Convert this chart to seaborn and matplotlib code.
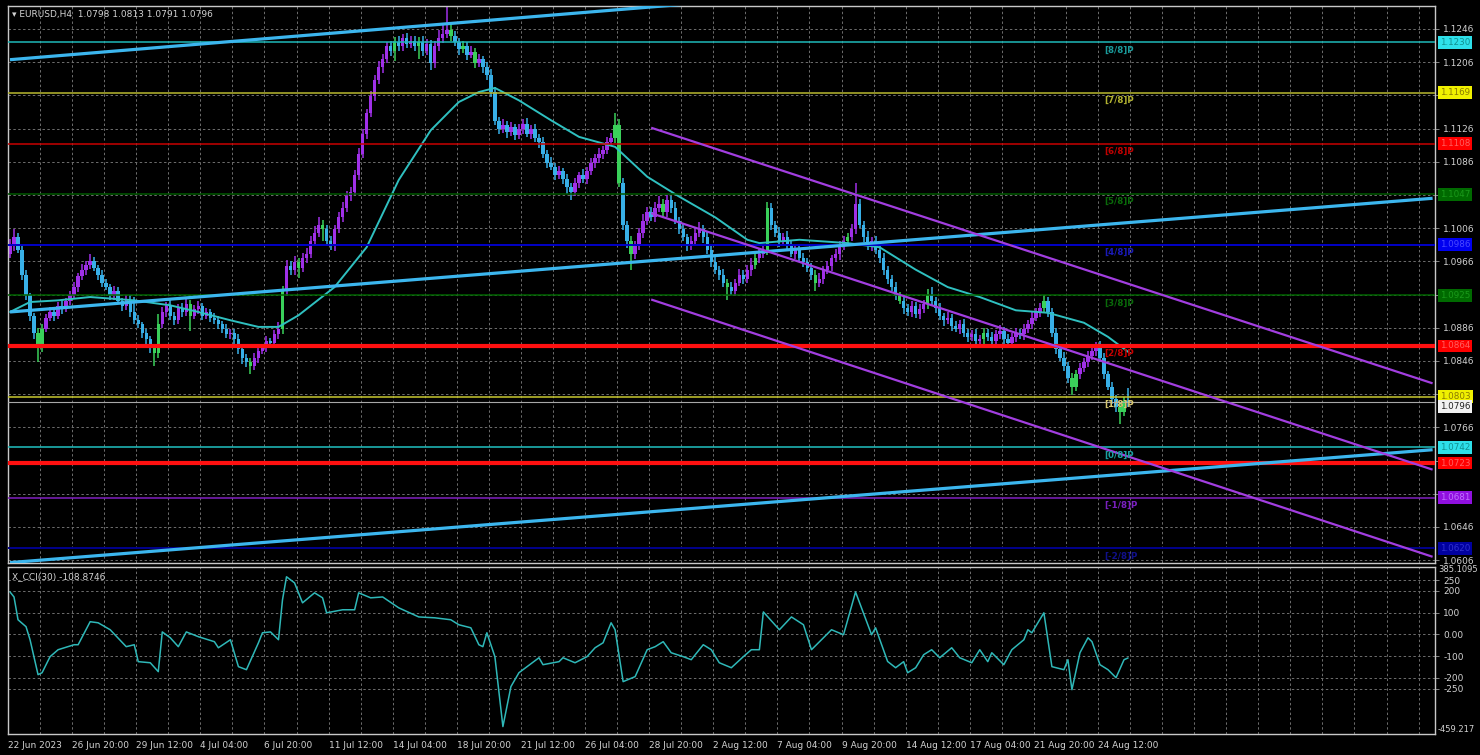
import numpy as np
import pandas as pd
import matplotlib
matplotlib.use("Agg")
import matplotlib.pyplot as plt
import matplotlib.transforms as mtransforms
import seaborn as sns

# ---------------- data ----------------
title_text = "\u25BE EURUSD,H4  1.0798 1.0813 1.0791 1.0796"
cci_title = "X_CCI(30) -108.8746"

first_open_pips = 10975
close_pips = [
    10985, 10995, 10980, 10950, 10925, 10900, 10880, 10862, 10885, 10898,
    10905, 10900, 10912, 10908, 10918, 10925, 10935, 10948, 10955, 10962,
    10966, 10958, 10950, 10940, 10935, 10925, 10930, 10918, 10912, 10920,
    10905, 10895, 10890, 10880, 10872, 10862, 10855, 10890, 10905, 10912,
    10900, 10895, 10910, 10905, 10915, 10900, 10908, 10912, 10900, 10905,
    10898, 10895, 10890, 10885, 10878, 10880, 10872, 10860, 10850, 10845,
    10840, 10850, 10858, 10862, 10870, 10868, 10878, 10885, 10930, 10960,
    10955, 10965, 10958, 10970, 10975, 10990, 11000, 11010, 11005, 10990,
    10985, 11005, 11020, 11030, 11045, 11050, 11070, 11095, 11120, 11145,
    11165, 11185, 11200, 11210, 11225, 11220, 11230, 11225, 11235, 11228,
    11232, 11225, 11230, 11220, 11228, 11205, 11225, 11235, 11240, 11245,
    11238, 11230, 11222, 11225, 11215, 11218, 11205, 11210, 11200, 11190,
    11170, 11135, 11125, 11130, 11122, 11128, 11118, 11125, 11132, 11120,
    11125, 11115, 11110, 11095, 11085, 11080, 11070, 11075, 11065, 11055,
    11050, 11060, 11070, 11065, 11075, 11085, 11090, 11095, 11100, 11110,
    11115, 11130, 11060, 11010, 10990, 10975, 10985, 11000, 11015, 11025,
    11020, 11030, 11035, 11025, 11040, 11030, 11015, 11005, 10995, 10985,
    10990, 11000, 11005, 10995, 10980, 10965, 10955, 10950, 10940, 10935,
    10930, 10940, 10950, 10945, 10955, 10962, 10970, 10975, 10980, 11030,
    11010, 11000, 10990, 10995, 10985, 10975, 10980, 10970, 10965, 10958,
    10950, 10940, 10945, 10955, 10960, 10970, 10975, 10985, 10990, 10995,
    11005, 11035, 11010, 10995, 10985, 10990, 10980, 10970, 10955, 10945,
    10935, 10925, 10918, 10910, 10905, 10912, 10903, 10908, 10915, 10925,
    10918, 10910, 10900, 10895, 10898, 10888, 10885, 10890, 10880, 10875,
    10878, 10870, 10872, 10880, 10875, 10870, 10878, 10882, 10872, 10868,
    10875, 10880, 10878, 10885, 10890, 10898, 10905, 10910, 10918, 10905,
    10880, 10860, 10850, 10840, 10825, 10815, 10830, 10838, 10845, 10852,
    10858, 10865, 10850, 10830, 10815, 10800, 10790, 10785, 10798, 10796,
]
upper_wick = [
    8, 10, 5, 4, 5, 3, 4, 6, 5, 4,
    6, 4, 5, 8, 4, 5, 6, 4, 8, 5,
    9, 5, 4, 6, 5, 4, 6, 5, 4, 6,
    5, 18, 6, 3, 5, 4, 5, 12, 6, 5,
    8, 5, 4, 6, 8, 4, 5, 6, 4, 5,
    4, 6, 5, 4, 6, 5, 4, 6, 5, 4,
    5, 6, 4, 5, 6, 4, 5, 8, 6, 8,
    6, 8, 5, 6, 7, 6, 8, 10, 6, 5,
    6, 5, 6, 8, 6, 5, 6, 8, 6, 5,
    6, 5, 8, 6, 5, 7, 6, 8, 5, 6,
    6, 5, 6, 8, 6, 5, 6, 10, 12, 30,
    8, 6, 5, 6, 5, 7, 5, 6, 4, 6,
    8, 6, 5, 7, 5, 6, 4, 6, 5, 7,
    5, 6, 4, 6, 5, 7, 5, 6, 4, 6,
    5, 6, 4, 7, 5, 6, 5, 7, 5, 6,
    6, 15, 8, 6, 5, 6, 5, 6, 8, 6,
    6, 8, 10, 6, 6, 5, 7, 5, 6, 4,
    6, 5, 8, 5, 6, 4, 6, 5, 7, 5,
    6, 5, 7, 5, 6, 8, 5, 6, 4, 8,
    6, 5, 7, 5, 8, 5, 6, 4, 6, 5,
    6, 5, 7, 5, 6, 4, 6, 5, 7, 5,
    6, 25, 6, 5, 7, 5, 6, 4, 6, 5,
    5, 6, 4, 7, 5, 6, 5, 6, 4, 8,
    10, 5, 6, 4, 7, 5, 6, 5, 6, 4,
    5, 7, 5, 6, 4, 6, 5, 7, 5, 6,
    5, 6, 4, 6, 5, 7, 5, 6, 7, 5,
    5, 6, 4, 7, 5, 6, 5, 6, 4, 6,
    5, 4, 5, 6, 4, 6, 5, 6, 5, 15,
]
lower_wick = [
    5, 6, 4, 6, 5, 6, 8, 17, 5, 4,
    4, 6, 4, 5, 3, 5, 4, 6, 4, 5,
    5, 4, 6, 5, 4, 6, 5, 4, 6, 5,
    6, 5, 4, 6, 5, 6, 15, 5, 4, 6,
    5, 6, 4, 6, 5, 18, 4, 6, 5, 4,
    5, 4, 6, 5, 4, 6, 5, 6, 8, 6,
    10, 5, 6, 4, 5, 6, 4, 5, 6, 5,
    5, 6, 12, 5, 6, 5, 6, 5, 15, 6,
    5, 6, 5, 7, 5, 6, 4, 6, 5, 6,
    5, 6, 5, 7, 5, 6, 12, 5, 6, 5,
    5, 6, 15, 6, 5, 8, 6, 5, 6, 5,
    6, 5, 7, 5, 6, 4, 6, 5, 7, 5,
    6, 5, 6, 4, 7, 5, 6, 5, 6, 4,
    6, 5, 7, 5, 6, 4, 6, 5, 6, 8,
    10, 5, 6, 4, 6, 5, 7, 5, 6, 5,
    5, 6, 5, 6, 8, 20, 6, 5, 6, 5,
    5, 6, 5, 7, 5, 6, 4, 6, 5, 6,
    5, 6, 5, 7, 5, 6, 4, 6, 5, 15,
    5, 6, 4, 6, 5, 7, 5, 6, 5, 6,
    6, 5, 7, 5, 6, 4, 6, 5, 6, 5,
    6, 10, 5, 6, 4, 6, 5, 7, 5, 6,
    5, 6, 4, 6, 5, 7, 5, 6, 5, 6,
    5, 6, 4, 7, 5, 6, 5, 6, 4, 6,
    5, 6, 5, 7, 5, 6, 4, 6, 5, 6,
    5, 6, 4, 6, 5, 7, 5, 6, 5, 6,
    5, 6, 5, 7, 5, 6, 4, 6, 5, 6,
    5, 6, 4, 6, 5, 10, 5, 6, 5, 6,
    5, 6, 5, 6, 4, 6, 5, 15, 5, 5,
]
green_bars = [7, 8, 36, 37, 45, 60, 68, 72, 78, 96, 102, 110, 113, 116, 151, 152,
              155, 163, 179, 186, 189, 201, 209, 222, 229, 243, 258, 265, 266, 277, 278]

ma_bar = [0, 5, 12, 20, 31, 40, 47, 55, 62, 67, 72, 81, 89, 97, 105, 112, 117,
          121, 127, 135, 142, 151, 159, 167, 176, 184, 187, 197, 209, 217, 226,
          234, 242, 251, 259, 268, 274, 279]
ma_val = [1.0905, 1.0917, 1.0919, 1.0923, 1.0919, 1.0913, 1.0905, 1.0895, 1.0887,
          1.0887, 1.0901, 1.0935, 1.0983, 1.1064, 1.1124, 1.1158, 1.1170, 1.1175,
          1.1160, 1.1136, 1.1116, 1.1104, 1.1068, 1.1044, 1.1019, 1.0992, 1.0988,
          1.0992, 1.0988, 1.0983, 1.0956, 1.0935, 1.0923, 1.0907, 1.0904, 1.0892,
          1.0875, 1.0857]

cci_bar = [0, 1, 2, 4, 5, 7, 8, 10, 12, 16, 17, 20, 22, 25, 29, 31, 32, 35, 37, 38,
           40, 42, 44, 47, 51, 52, 55, 57, 59, 62, 63, 65, 67, 68, 69, 71, 73, 76,
           78, 79, 83, 86, 87, 90, 93, 97, 102, 106, 110, 112, 115, 117, 118, 119,
           121, 123, 125, 127, 132, 133, 137, 138, 141, 144, 146, 148, 150, 151,
           153, 156, 159, 161, 163, 165, 168, 170, 173, 175, 177, 180, 183, 185,
           187, 188, 192, 195, 198, 200, 205, 208, 211, 215, 216, 219, 221, 223,
           224, 226, 228, 230, 232, 235, 237, 240, 242, 244, 245, 248, 250, 253,
           254, 255, 258, 260, 263, 264, 265, 267, 269, 270, 272, 274, 276, 278, 279]
cci_val = [195, 172, 67, 35, -25, -186, -177, -103, -71, -48, -48, 58, 53, 21, -57,
           -48, -126, -131, -172, 11, -16, -57, 11, -11, -34, -62, -25, -149, -163,
           -39, 7, 11, -25, 159, 265, 237, 145, 191, 168, 99, 113, 113, 191, 168,
           172, 122, 80, 76, 67, 44, 30, -48, -57, 7, -103, -425, -241, -177, -108,
           -140, -126, -108, -131, -103, -62, -39, 53, 21, -218, -195, -71, -57,
           -34, -85, -103, -117, -48, -71, -131, -154, -103, -71, -71, 103, 21, 80,
           44, -71, 21, -2, 195, -2, 30, -125, -154, -126, -177, -154, -94, -71,
           -108, -62, -108, -131, -71, -126, -85, -140, -71, -25, 21, 7, 99, -149,
           -163, -117, -255, -85, -16, -34, -140, -163, -200, -117, -109]

# Murrey math levels
level_vals = [1.1230, 1.1169, 1.1108, 1.1047, 1.0986, 1.0925, 1.0864, 1.0803,
              1.0742, 1.0681, 1.0620]
level_names = ["[8/8]P", "[7/8]P", "[6/8]P", "[5/8]P", "[4/8]P", "[3/8]P",
               "[2/8]P", "[1/8]P", "[0/8]P", "[-1/8]P", "[-2/8]P"]
support_val = 1.0723
last_price = 1.0796

# trend channel anchors (bar, price)
cyan_bars = [0, 355]
cyan_prices = [[1.1209, 1.1350], [1.0905, 1.1042], [1.0603, 1.0739]]
purple_bars = [160, 355]
purple_prices = [[1.1127, 1.0819], [1.1024, 1.0715], [1.0920, 1.0610]]

date_labels = ["22 Jun 2023", "26 Jun 20:00", "29 Jun 12:00", "4 Jul 04:00",
               "6 Jul 20:00", "11 Jul 12:00", "14 Jul 04:00", "18 Jul 20:00",
               "21 Jul 12:00", "26 Jul 04:00", "28 Jul 20:00", "2 Aug 12:00",
               "7 Aug 04:00", "9 Aug 20:00", "14 Aug 12:00", "17 Aug 04:00",
               "21 Aug 20:00", "24 Aug 12:00"]
cci_ticks = [250, 200, 100, 0, -100, -200, -250]
cci_tick_labels = ["250", "200", "100", "0.00", "-100", "-200", "-250"]
cci_top_label = "385.1095"
cci_bottom_label = "-459.217"

# ---------------- styles ----------------
level_line_colors = ["#1fb8b8", "#b8b830", "#c80000", "#005a00", "#0000c8", "#006400",
                     "#ff1010", "#c8c830", "#20c0c0", "#8020c0", "#00008c"]
level_line_widths = [1.1, 1.1, 1.1, 1.1, 1.4, 1.1, 3.0, 1.1, 1.1, 1.1, 1.4]
level_text_colors = ["#1a9a9a", "#b0b030", "#c00000", "#0a6a0a", "#1a1ab8", "#0a6a0a",
                     "#c80000", "#d8c870", "#1aa0a0", "#7a20c0", "#10108a"]
box_face = ["#2ee0ea", "#f0f000", "#ff0000", "#006a00", "#0000f0", "#006a00",
            "#ff0000", "#f0f000", "#2ee0ea", "#9010e0", "#0000a0"]
box_text = ["#109090", "#8a7a00", "#ff6060", "#1a9a1a", "#4a4aff", "#1a9a1a",
            "#ff6060", "#8a7a00", "#109090", "#c070ff", "#3030d0"]
UP, DOWN, GREEN = "#a030e8", "#38b0e8", "#3ad05a"
TXT = "#d2d2d2"

sns.set_theme(style="dark", rc={"axes.facecolor": "black", "figure.facecolor": "black",
                                "savefig.facecolor": "black", "text.color": TXT,
                                "xtick.color": TXT, "ytick.color": TXT,
                                "axes.edgecolor": "#c8c8c8"})
plt.rcParams["font.family"] = ["DejaVu Sans"]

W, H = 1480, 755
fig = plt.figure(figsize=(W / 100, H / 100), dpi=100)
ax = fig.add_axes([8 / W, 1 - 563 / H, 1427 / W, 557 / H])
axc = fig.add_axes([8 / W, 1 - 734 / H, 1427 / W, 167 / H])

n_slots = 356
x_lo, x_hi = -0.5, 355.6
grid_pos = [b - 0.5 for b in range(0, n_slots, 8)]
label_pos = [b - 0.5 for b in range(0, 16 * len(date_labels), 16)]
gstyle = dict(color="#6e6e6e", linestyle=(0, (2.5, 2.5)), linewidth=0.7)

# ---------------- main price panel ----------------
c = np.array(close_pips) / 10000
o = np.concatenate([[first_open_pips / 10000], c[:-1]])
hi = np.maximum(o, c) + np.array(upper_wick) / 10000
lo = np.minimum(o, c) - np.array(lower_wick) / 10000
bars = np.arange(len(c))
cols = np.where(c >= o, UP, DOWN).astype(object)
for g in green_bars:
    cols[g] = GREEN

ax.vlines(bars, lo, hi, colors=list(cols), linewidth=1.1, zorder=2)
ax.bar(bars, np.maximum(np.abs(c - o), 0.00010), bottom=np.minimum(o, c),
       width=0.85, color=list(cols), linewidth=0, zorder=2)

ma_df = pd.DataFrame({"bar": ma_bar, "ma": ma_val})
sns.lineplot(data=ma_df, x="bar", y="ma", ax=ax, color="#2fc0c0", linewidth=1.4,
             sort=False, zorder=3, legend=False)

for v, lc, lw in zip(level_vals, level_line_colors, level_line_widths):
    ax.axhline(v, color=lc, linewidth=lw, zorder=4)
ax.axhline(support_val, color="#ff1010", linewidth=3.0, zorder=4)
ax.axhline(last_price, color="#a8a8a8", linewidth=0.8, zorder=4)

for pr in cyan_prices:
    ax.plot(cyan_bars, pr, color="#3cb6ee", linewidth=2.3, zorder=5, solid_capstyle="butt")
for pr in purple_prices:
    ax.plot(purple_bars, pr, color="#a23ee0", linewidth=1.6, zorder=5, solid_capstyle="butt")

for v, name, tc in zip(level_vals, level_names, level_text_colors):
    ax.annotate(name, xy=(273, v), xytext=(0, -5.5), textcoords="offset points",
                color=tc, fontsize=6.3, fontweight="bold", ha="left", va="center", zorder=6)

ax.set_xlim(x_lo, x_hi)
ax.set_ylim(1.06025, 1.12737)
yt = np.round(1.0606 + 0.004 * np.arange(17), 4)
box_vals = level_vals + [support_val, last_price]
ylabels = ["" if any(abs(t - b) < 0.001 for b in box_vals) else f"{t:.4f}" for t in yt]
ax.yaxis.tick_right()
ax.set_yticks(yt)
ax.set_yticklabels(ylabels, fontsize=6.5, color=TXT)
ax.tick_params(axis="y", length=3, width=0.6, pad=3, color="#9a9a9a")
ax.set_xticks(grid_pos)
ax.tick_params(axis="x", length=0, labelbottom=False)
ax.grid(True, axis="both", **gstyle)
ax.set_xlabel("")
ax.set_ylabel("")
for s in ax.spines.values():
    s.set_color("#c8c8c8")
    s.set_linewidth(1.0)

trans = mtransforms.blended_transform_factory(ax.transAxes, ax.transData)
box_items = list(zip(level_vals, box_face, box_text)) + \
    [(support_val, "#ff0000", "#ff6060"), (last_price, "#f2f2f2", "#202020")]
for v, fc, tc in box_items:
    yy = v if v != last_price else v - 0.00045
    ax.text(1.0035, yy, f"{v:.4f}", transform=trans, fontsize=6.3, color=tc,
            ha="left", va="center", clip_on=False, zorder=7,
            bbox=dict(boxstyle="square,pad=0.22", fc=fc, ec="none"))

fig.text(12 / W, 1 - 15 / H, title_text, fontsize=6.5, color=TXT, ha="left", va="center")

# ---------------- CCI panel ----------------
cci_df = pd.DataFrame({"bar": cci_bar, "cci": cci_val})
sns.lineplot(data=cci_df, x="bar", y="cci", ax=axc, color="#2fb8b8", linewidth=1.1,
             sort=False, legend=False)
axc.set_xlim(x_lo, x_hi)
axc.set_ylim(-459.217, 310)
axc.yaxis.tick_right()
axc.set_yticks(cci_ticks)
axc.set_yticklabels(cci_tick_labels, fontsize=6.5, color=TXT)
axc.tick_params(axis="y", length=3, width=0.6, pad=3, color="#9a9a9a")
axc.set_xticks(grid_pos)
xl = []
for p in grid_pos:
    xl.append(date_labels[label_pos.index(p)] if p in label_pos else "")
axc.set_xticklabels(xl, fontsize=6.5, color=TXT, ha="left")
axc.tick_params(axis="x", length=3, width=0.6, pad=2, color="#9a9a9a")
axc.grid(True, axis="both", **gstyle)
axc.set_xlabel("")
axc.set_ylabel("")
for s in axc.spines.values():
    s.set_color("#c8c8c8")
    s.set_linewidth(1.0)
axc.text(0.003, 0.94, cci_title, transform=axc.transAxes, fontsize=6.5, color=TXT,
         ha="left", va="center")
axc.text(1.002, 1 - 3 / 167, cci_top_label, transform=axc.transAxes, fontsize=6.0,
         color=TXT, ha="left", va="center", clip_on=False)
axc.text(1.002, 5 / 167, cci_bottom_label, transform=axc.transAxes, fontsize=6.0,
         color=TXT, ha="left", va="center", clip_on=False)

fig.savefig("out.png", dpi=100, facecolor="black")
